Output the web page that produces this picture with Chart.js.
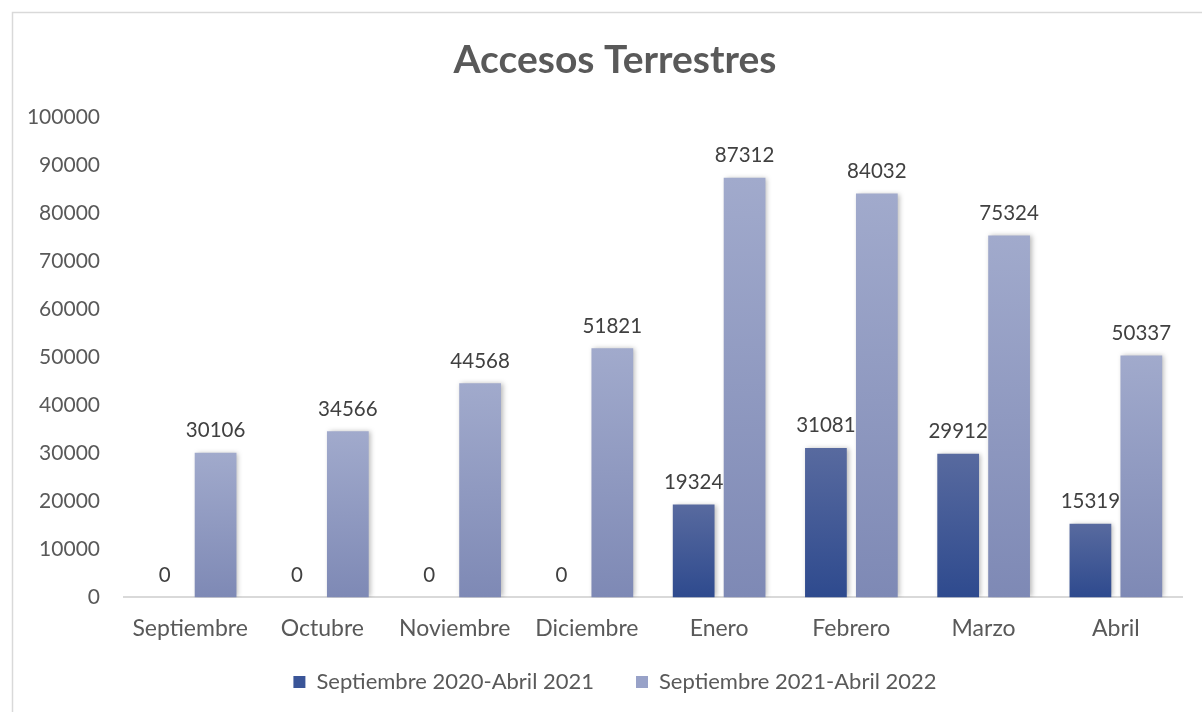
<!DOCTYPE html>
<html>
<head>
<meta charset="utf-8">
<script src="https://cdn.jsdelivr.net/npm/chart.js@4.4.0/dist/chart.umd.min.js"></script>
<style>
  html, body { margin: 0; padding: 0; background: #fff; }
  #wrap { width: 1202px; height: 712px; }
</style>
</head>
<body>
<div id="wrap"><canvas id="chart" width="1202" height="712"></canvas></div>
<script>
const months = ['Septiembre', 'Octubre', 'Noviembre', 'Diciembre', 'Enero', 'Febrero', 'Marzo', 'Abril'];
const season2021 = [0, 0, 0, 0, 19324, 31081, 29912, 15319];
const season2022 = [30106, 34566, 44568, 51821, 87312, 84032, 75324, 50337];
const yTicks = [0, 10000, 20000, 30000, 40000, 50000, 60000, 70000, 80000, 90000, 100000];

const FONT = 'Lato';
const LEGEND_PAD = 42;   // horizontal gap between legend items
const LEGEND_CUT = 22;   // extra height the legend padding would eat below the axis
const SHIFT_X = 11;      // title and legend sit a little right of the plot centre

// vertical gradient per bar, from its top down to the zero line
function barGradient(top, bottom) {
    return (context) => {
        const chart = context.chart;
        if (!chart.chartArea) return bottom;
        const y = chart.scales.y;
        const yTop = y.getPixelForValue(context.raw || 0);
        const yBase = y.getPixelForValue(0);
        if (yBase - yTop < 1) return bottom;
        const g = chart.ctx.createLinearGradient(0, yTop, 0, yBase);
        g.addColorStop(0, top);
        g.addColorStop(1, bottom);
        return g;
    };
}

const frame = {
    id: 'frame',
    beforeDraw(chart) {
        const ctx = chart.ctx;
        ctx.save();
        ctx.strokeStyle = '#D9D9D9';
        ctx.lineWidth = 1.5;
        ctx.strokeRect(12.5, 12.5, chart.width + 20, chart.height + 20);
        ctx.restore();
    }
};

// legend gets less height than its padding needs; grow its box upwards again
const legendLift = {
    id: 'legendLift',
    afterLayout(chart) {
        const lg = chart.legend;
        if (lg) {
            lg.top -= LEGEND_CUT;
            lg.height += LEGEND_CUT;
            lg.left += SHIFT_X;
            lg.right += SHIFT_X;
        }
        const tb = chart.titleBlock;
        if (tb) {
            tb.left += SHIFT_X;
            tb.right += SHIFT_X;
        }
    }
};

const barShadow = {
    id: 'barShadow',
    beforeDatasetsDraw(chart) {
        const ctx = chart.ctx;
        ctx.save();
        ctx.shadowColor = 'rgba(0,0,0,0.28)';
        ctx.shadowBlur = 5;
        ctx.shadowOffsetX = 2;
        ctx.shadowOffsetY = 0;
    },
    afterDatasetsDraw(chart) {
        chart.ctx.restore();
    }
};

const valueLabels = {
    id: 'valueLabels',
    afterDatasetsDraw(chart) {
        const ctx = chart.ctx;
        ctx.save();
        ctx.font = '20.5px ' + FONT;
        ctx.fillStyle = '#404040';
        ctx.textAlign = 'center';
        ctx.textBaseline = 'bottom';
        chart.data.datasets.forEach((ds, i) => {
            chart.getDatasetMeta(i).data.forEach((bar, j) => {
                ctx.fillText(String(ds.data[j]), bar.x, bar.y - 12);
            });
        });
        ctx.restore();
    }
};

new Chart(document.getElementById('chart'), {
    type: 'bar',
    data: {
        labels: months,
        datasets: [{
            label: 'Septiembre 2020-Abril 2021',
            data: season2021,
            backgroundColor: barGradient('#586A9F', '#2E4A8E'),
            categoryPercentage: 0.77,
            barPercentage: 0.82
        }, {
            label: 'Septiembre 2021-Abril 2022',
            data: season2022,
            backgroundColor: barGradient('#A1AACC', '#7E89B5'),
            categoryPercentage: 0.77,
            barPercentage: 0.82
        }]
    },
    options: {
        responsive: false,
        animation: false,
        layout: {
            padding: { left: 26, right: 20, top: 12, bottom: 9 }
        },
        plugins: {
            title: {
                display: true,
                text: 'Accesos Terrestres',
                color: '#595959',
                font: { family: FONT, size: 39, weight: 'bold' },
                padding: { top: 25, bottom: 33 }
            },
            legend: {
                position: 'bottom',
                maxHeight: 22 + LEGEND_PAD + 10 - LEGEND_CUT,
                labels: {
                    color: '#595959',
                    font: { family: FONT, size: 22 },
                    boxWidth: 12,
                    boxHeight: 12,
                    padding: LEGEND_PAD,
                    generateLabels(chart) {
                        const fills = ['#3A5598', '#98A2C8'];
                        return chart.data.datasets.map((ds, i) => ({
                            text: ds.label,
                            fillStyle: fills[i],
                            strokeStyle: fills[i],
                            lineWidth: 0,
                            datasetIndex: i,
                            fontColor: '#595959'
                        }));
                    }
                }
            },
            tooltip: { enabled: false }
        },
        scales: {
            x: {
                grid: { display: false },
                border: { display: true, color: '#D9D9D9', width: 2 },
                ticks: {
                    color: '#595959',
                    font: { family: FONT, size: 23 },
                    padding: 9
                }
            },
            y: {
                min: 0,
                max: 100000,
                afterBuildTicks(scale) {
                    scale.ticks = yTicks.map(v => ({ value: v }));
                },
                afterFit(scale) {
                    scale.width = 98;
                },
                grid: { display: false },
                border: { display: false },
                ticks: {
                    color: '#595959',
                    font: { family: FONT, size: 21 },
                    padding: 16,
                    callback: (v) => String(v)
                }
            }
        }
    },
    plugins: [frame, legendLift, barShadow, valueLabels]
});
</script>
</body>
</html>
